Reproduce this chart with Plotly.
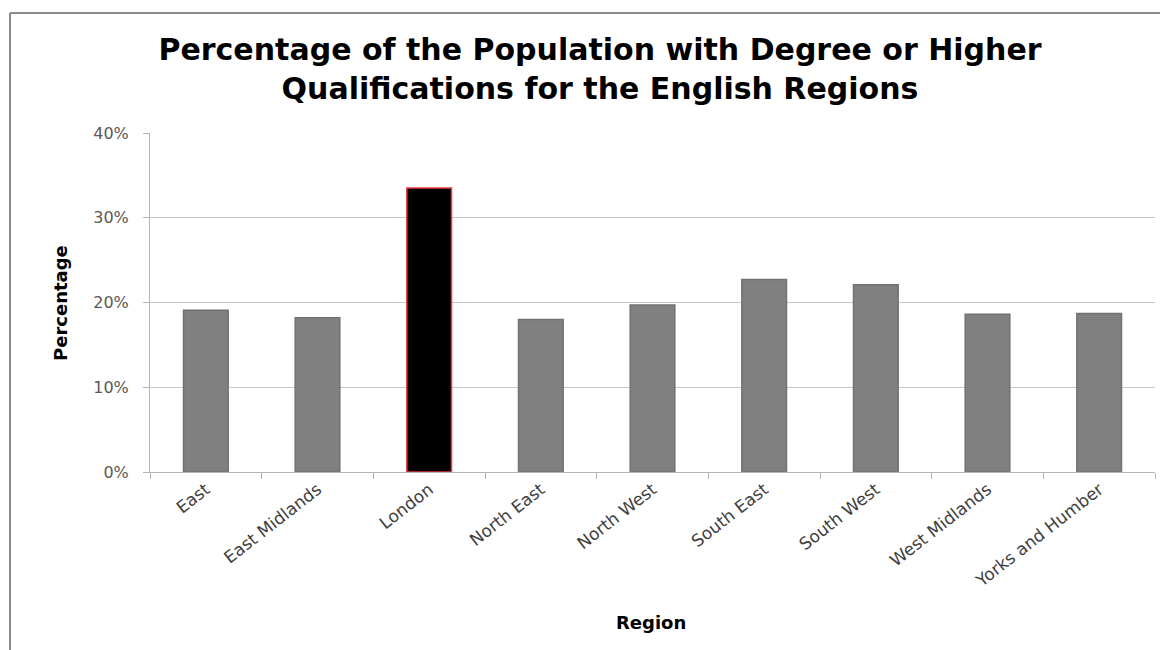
import plotly.graph_objects as go

regions = ["East", "East Midlands", "London", "North East", "North West",
           "South East", "South West", "West Midlands", "Yorks and Humber"]
values = [0.191, 0.182, 0.335, 0.180, 0.197, 0.227, 0.221, 0.186, 0.187]
bar_colors = ["#808080", "#808080", "#000000", "#808080", "#808080",
              "#808080", "#808080", "#808080", "#808080"]
line_colors = ["#727272", "#727272", "#e8393b", "#727272", "#727272",
               "#727272", "#727272", "#727272", "#727272"]
y_ticks = [0, 0.1, 0.2, 0.3, 0.4]
y_tick_labels = ["0%", "10%", "20%", "30%", "40%"]

# page body has an 8px margin, so the figure is sized to fill the rest
W, H = 1160, 642
L, R, T, B = 142, 13, 125, 178
PW, PH = W - L - R, H - T - B


def px(x):
    return (x - L) / PW


def py(y):
    return 1 - (y - T) / PH


fig = go.Figure(go.Bar(
    x=regions, y=values, width=0.4,
    marker=dict(color=bar_colors, line=dict(color=line_colors, width=1.5)),
))

fig.update_layout(
    width=W, height=H,
    margin=dict(l=L, r=R, t=T, b=B),
    paper_bgcolor="white", plot_bgcolor="white",
    showlegend=False,
    font=dict(family="DejaVu Sans, sans-serif", color="#595959"),
    title=dict(
        text="Percentage of the Population with Degree or Higher<br>Qualifications for the English Regions",
        x=592 / W, xanchor="center", y=1 - 52 / H, yanchor="middle",
        font=dict(family="DejaVu Sans, sans-serif", size=30, color="#000000", weight="bold"),
    ),
)

fig.update_yaxes(
    range=[0, 0.4], tickvals=y_ticks, ticktext=y_tick_labels,
    showgrid=True, gridcolor="#c6c6c6", gridwidth=1,
    showline=True, linecolor="#b5b5b5", linewidth=1,
    ticks="outside", ticklen=6, tickcolor="#b5b5b5",
    ticklabelstandoff=11,
    tickfont=dict(size=16, color="#595959"),
    zeroline=False,
)

fig.update_xaxes(
    tickangle=-38, tickson="boundaries",
    showline=True, linecolor="#b5b5b5", linewidth=1,
    ticks="outside", ticklen=6, tickcolor="#b5b5b5",
    tickfont=dict(size=17, color="#404040"),
)

axis_title_font = dict(family="DejaVu Sans, sans-serif", size=18, color="#000000")
fig.add_annotation(
    text="<b>Region</b>", xref="paper", yref="paper",
    x=px(643), y=py(614), xanchor="center", yanchor="middle",
    showarrow=False, font=axis_title_font,
)
fig.add_annotation(
    text="<b>Percentage</b>", xref="paper", yref="paper",
    x=px(52), y=py(295), xanchor="center", yanchor="middle",
    textangle=-90, showarrow=False, font=axis_title_font,
)

# outer frame (top and left edges visible)
frame = dict(color="#8c8c8c", width=2)
fig.add_shape(type="line", xref="paper", yref="paper",
              x0=px(2), x1=px(W + 5), y0=py(5), y1=py(5), line=frame)
fig.add_shape(type="line", xref="paper", yref="paper",
              x0=px(2), x1=px(2), y0=py(5), y1=py(H + 5), line=frame)

fig.write_html("out.html")
